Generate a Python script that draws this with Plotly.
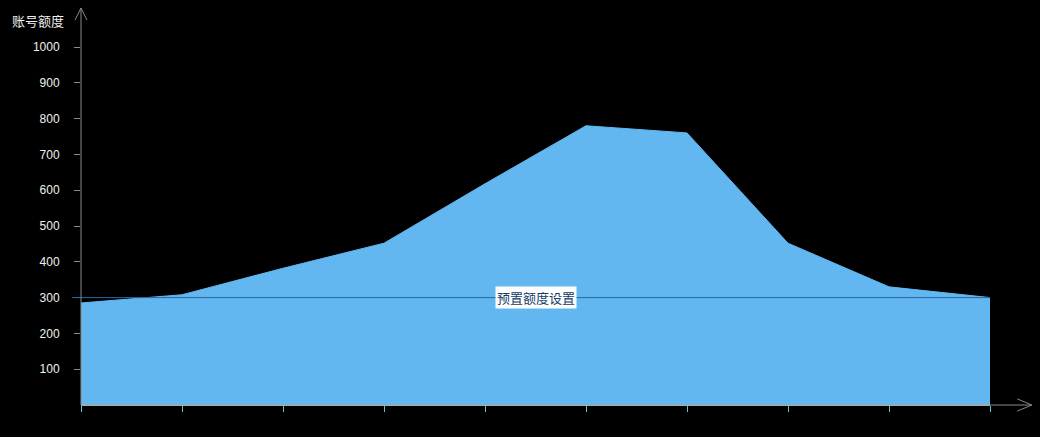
import plotly.graph_objects as go

# 账号额度数据 (10 个点, 无横轴标签)
points = list(range(10))
quota = [285, 308, 382, 452, 618, 780, 760, 452, 330, 300]
preset_value = 300
preset_label = "预置额度设置"
y_title = "账号额度"
y_ticks = [100, 200, 300, 400, 500, 600, 700, 800, 900, 1000]

fig = go.Figure()

fig.add_trace(go.Scatter(
    x=points, y=quota,
    mode="lines",
    line=dict(color="#62b7f0", width=1),
    fill="tozeroy",
    fillcolor="#62b7f0",
    hoverinfo="y",
    showlegend=False,
))

# 预置额度 markline
fig.add_shape(type="line", xref="paper", yref="y", x0=-0.01, x1=1,
              y0=preset_value, y1=preset_value,
              line=dict(color="#2767a3", width=1))
fig.add_annotation(xref="paper", yref="y", x=0.5, y=preset_value,
                   text=preset_label, showarrow=False,
                   bgcolor="white", borderpad=1,
                   font=dict(size=13, color="#143c66", family="Noto Sans CJK SC"))

# 坐标轴延长线和箭头
axis_grey = "#8a8a8a"
fig.add_shape(type="line", xref="paper", yref="paper", x0=0, x1=0, y0=0, y1=1.109,
              line=dict(color=axis_grey, width=1))
fig.add_shape(type="path", xref="paper", yref="paper",
              path="M -0.0066,1.075 L 0,1.109 L 0.0066,1.075",
              line=dict(color=axis_grey, width=1))
fig.add_shape(type="line", xref="paper", yref="paper", x0=1, x1=1.046, y0=0, y1=0,
              line=dict(color=axis_grey, width=1))
fig.add_shape(type="path", xref="paper", yref="paper",
              path="M 1.03,0.017 L 1.046,0 L 1.03,-0.017",
              line=dict(color=axis_grey, width=1))

fig.add_annotation(xref="paper", yref="paper", x=-0.047, y=1.075,
                   text=y_title, showarrow=False, xanchor="center", yanchor="middle",
                   font=dict(size=13, color="#f0f0f0", family="Noto Sans CJK SC"))

fig.update_layout(
    width=1040, height=437,
    paper_bgcolor="black", plot_bgcolor="black",
    margin=dict(l=81, r=50, t=47, b=32),
    showlegend=False,
)

fig.update_xaxes(
    range=[0, 9], showgrid=False, zeroline=False,
    showline=True, linecolor="#c9a57c", linewidth=1,
    tickvals=points, ticks="outside", ticklen=6, tickcolor="#5cc6d6",
    showticklabels=False,
)
fig.update_yaxes(
    range=[0, 1000], showgrid=False, zeroline=False,
    showline=False,
    tickvals=y_ticks, ticks="outside", ticklen=6, tickcolor=axis_grey,
    ticklabelstandoff=12,
    tickfont=dict(size=12, color="#f0f0f0", family="Liberation Sans"),
)

fig.write_html("out.html", config={"displayModeBar": False},
               post_script="document.body.style.margin='0';document.body.style.background='black';")
